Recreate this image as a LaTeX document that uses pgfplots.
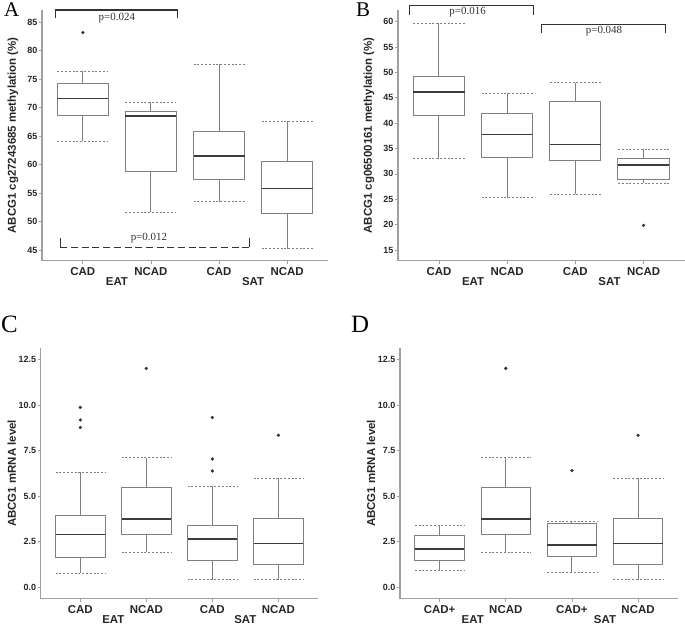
\documentclass[border=0pt]{standalone}
\usepackage{pgfplots}
\pgfplotsset{compat=1.18}
\usepgfplotslibrary{statistics}
\usepackage{fontspec}
\setmainfont{Liberation Serif}
\setsansfont{Liberation Sans}
\definecolor{axgray}{HTML}{A0A0A0}
\definecolor{boxgray}{HTML}{7F7F7F}
\definecolor{medgray}{HTML}{3C3C3C}
\definecolor{txtgray}{HTML}{262626}
\definecolor{brgray}{HTML}{333333}

\tikzset{
  bracket/.style={draw=brgray, line width=1.2bp},
  pval/.style={font=\rmfamily\fontsize{11}{12}\selectfont, text=brgray, inner sep=0pt},
}
\pgfplotsset{
  panel/.style={
    scale only axis,
    anchor=south west,
    clip=false,
    axis x line*=bottom, axis y line*=left,
    axis line style={-, draw=axgray, line width=1.2bp},
    every outer x axis line/.append style={-},
    every outer y axis line/.append style={-},
    xmin=0.4, xmax=4.6,
    xtick={1,2,3,4},
    extra x ticks={1.5,3.5},
    extra x tick labels={EAT,SAT},
    extra x tick style={major tick length=0pt, tick label style={yshift=-15.5bp, inner sep=1bp}},
    tick align=outside,
    major tick length=3bp,
    tick style={draw=axgray, line width=0.8bp},
    /pgf/number format/assume math mode=true,
    yticklabel style={font=\sffamily\bfseries\fontsize{9}{10}\selectfont, text=txtgray, inner sep=1.5bp},
    xticklabel style={font=\sffamily\bfseries\fontsize{11.5}{12}\selectfont, text=txtgray},
    every axis y label/.style={at={(rel axis cs:0,0.5)}, xshift=-29bp, rotate=90, anchor=center,
      font=\sffamily\bfseries\fontsize{11.5}{12}\selectfont, text=txtgray},
  },
  bp/.style={
    draw=boxgray, line width=1bp,
    mark=*, mark size=1.5bp, mark options={draw=black!80, fill=black!80, solid, line width=0.3bp},
    boxplot/draw direction=y,
    boxplot/box extend=0.75,
    boxplot/every box/.style={draw=boxgray, line width=1bp, fill=white},
    boxplot/every median/.style={draw=medgray, line width=1.5bp},
    boxplot/draw/whisker/.code 2 args={%
      \draw[draw=boxgray, line width=1bp] (boxplot box cs:##1,0.5) -- (boxplot box cs:##2,0.5);
      \draw[draw=boxgray, line width=1bp, dash pattern=on 2bp off 1.8bp]
        (boxplot box cs:##2,0) -- (boxplot box cs:##2,1);
    },
  },
}

\begin{document}
\begin{tikzpicture}
\useasboundingbox (0,0) rectangle (685bp,628bp);

% ---------------- Panel A ----------------
\begin{axis}[panel, at={(42bp,367.3bp)}, width=286bp, height=250.7bp,
  ymin=43.13, ymax=87.17, ytick={45,50,55,60,65,70,75,80,85},
  xticklabels={CAD,NCAD,CAD,NCAD},
  ylabel={ABCG1 cg27243685 methylation (\%)}]
\addplot[bp, boxplot prepared={draw position=1, lower whisker=64.1, lower quartile=68.6, median=71.6, upper quartile=74.17, upper whisker=76.45}] coordinates {(0,83.2)};
\addplot[bp, boxplot prepared={draw position=2, lower whisker=51.6, lower quartile=58.8, median=68.55, upper quartile=69.4, upper whisker=70.95}] coordinates {};
\addplot[bp, boxplot prepared={draw position=3, lower whisker=53.5, lower quartile=57.4, median=61.5, upper quartile=65.8, upper whisker=77.6}] coordinates {};
\addplot[bp, boxplot prepared={draw position=4, lower whisker=45.2, lower quartile=51.45, median=55.8, upper quartile=60.6, upper whisker=67.6}] coordinates {};
\draw[bracket] (axis cs:0.60,85.7) -- (axis cs:0.60,87.17) -- (axis cs:2.39,87.17) -- (axis cs:2.39,85.7);
\node[pval, anchor=base] at (axis cs:1.50,85.3) {p=0.024};
\draw[bracket] (axis cs:0.67,47.1) -- (axis cs:0.67,45.47);
\draw[bracket, dash pattern=on 7bp off 3.7bp] (axis cs:0.67,45.47) -- (axis cs:3.45,45.47);
\draw[bracket] (axis cs:3.45,45.47) -- (axis cs:3.45,47.1);
\node[pval, anchor=base] at (axis cs:1.97,46.6) {p=0.012};
\end{axis}

% ---------------- Panel B ----------------
\begin{axis}[panel, at={(398bp,367.3bp)}, width=286.5bp, height=250.7bp,
  ymin=12.9, ymax=62.3, ytick={15,20,25,30,35,40,45,50,55,60},
  xticklabels={CAD,NCAD,CAD,NCAD},
  ylabel={ABCG1 cg06500161 methylation (\%)}]
\addplot[bp, boxplot prepared={draw position=1, lower whisker=33.0, lower quartile=41.5, median=46.1, upper quartile=49.2, upper whisker=59.7}] coordinates {};
\addplot[bp, boxplot prepared={draw position=2, lower whisker=25.3, lower quartile=33.3, median=37.8, upper quartile=41.9, upper whisker=45.9}] coordinates {};
\addplot[bp, boxplot prepared={draw position=3, lower whisker=26.0, lower quartile=32.7, median=35.8, upper quartile=44.3, upper whisker=48.0}] coordinates {};
\addplot[bp, boxplot prepared={draw position=4, lower whisker=28.2, lower quartile=28.9, median=31.8, upper quartile=33.0, upper whisker=34.9}] coordinates {(0,19.85)};
\draw[bracket] (axis cs:0.57,61.3) -- (axis cs:0.57,63.15) -- (axis cs:2.39,63.15) -- (axis cs:2.39,61.3);
\node[pval, anchor=base] at (axis cs:1.42,61.4) {p=0.016};
\draw[bracket] (axis cs:2.50,57.8) -- (axis cs:2.50,59.5) -- (axis cs:4.32,59.5) -- (axis cs:4.32,57.8);
\node[pval, anchor=base] at (axis cs:3.42,57.7) {p=0.048};
\end{axis}

% ---------------- Panel C ----------------
\begin{axis}[panel, at={(40.7bp,29.3bp)}, width=277.3bp, height=250.7bp,
  ymin=-0.62, ymax=13.14, ytick={0,2.5,5,7.5,10,12.5},
  yticklabels={0.0,2.5,5.0,7.5,10.0,12.5},
  xticklabels={CAD,NCAD,CAD,NCAD},
  ylabel={ABCG1 mRNA level}]
\addplot[bp, boxplot prepared={draw position=1, lower whisker=0.77, lower quartile=1.65, median=2.89, upper quartile=3.92, upper whisker=6.33}] coordinates {(0,9.88) (0,9.19) (0,8.78)};
\addplot[bp, boxplot prepared={draw position=2, lower whisker=1.94, lower quartile=2.91, median=3.75, upper quartile=5.47, upper whisker=7.12}] coordinates {(0,12.02)};
\addplot[bp, boxplot prepared={draw position=3, lower whisker=0.42, lower quartile=1.45, median=2.67, upper quartile=3.42, upper whisker=5.56}] coordinates {(0,9.32) (0,7.05) (0,6.39)};
\addplot[bp, boxplot prepared={draw position=4, lower whisker=0.42, lower quartile=1.28, median=2.42, upper quartile=3.77, upper whisker=6.0}] coordinates {(0,8.35)};
\end{axis}

% ---------------- Panel D ----------------
\begin{axis}[panel, at={(400bp,29.3bp)}, width=277.7bp, height=250.7bp,
  ymin=-0.62, ymax=13.14, ytick={0,2.5,5,7.5,10,12.5},
  yticklabels={0.0,2.5,5.0,7.5,10.0,12.5},
  xticklabels={CAD+,NCAD,CAD+,NCAD},
  ylabel={ABCG1 mRNA level}]
\addplot[bp, boxplot prepared={draw position=1, lower whisker=0.92, lower quartile=1.46, median=2.10, upper quartile=2.85, upper whisker=3.42}] coordinates {};
\addplot[bp, boxplot prepared={draw position=2, lower whisker=1.94, lower quartile=2.91, median=3.75, upper quartile=5.47, upper whisker=7.12}] coordinates {(0,12.02)};
\addplot[bp, boxplot prepared={draw position=3, lower whisker=0.82, lower quartile=1.70, median=2.32, upper quartile=3.53, upper whisker=3.62}] coordinates {(0,6.41)};
\addplot[bp, boxplot prepared={draw position=4, lower whisker=0.42, lower quartile=1.28, median=2.42, upper quartile=3.77, upper whisker=6.0}] coordinates {(0,8.35)};
\end{axis}

% panel letters
\node[anchor=base west, inner sep=0pt, font=\rmfamily\fontsize{21}{22}\selectfont] at (4bp,611.3bp) {A};
\node[anchor=base west, inner sep=0pt, font=\rmfamily\fontsize{21}{22}\selectfont] at (356bp,611.3bp) {B};
\node[anchor=base west, inner sep=0pt, font=\rmfamily\fontsize{25}{26}\selectfont] at (1bp,295.3bp) {C};
\node[anchor=base west, inner sep=0pt, font=\rmfamily\fontsize{25}{26}\selectfont] at (351bp,295.3bp) {D};
\end{tikzpicture}
\end{document}
